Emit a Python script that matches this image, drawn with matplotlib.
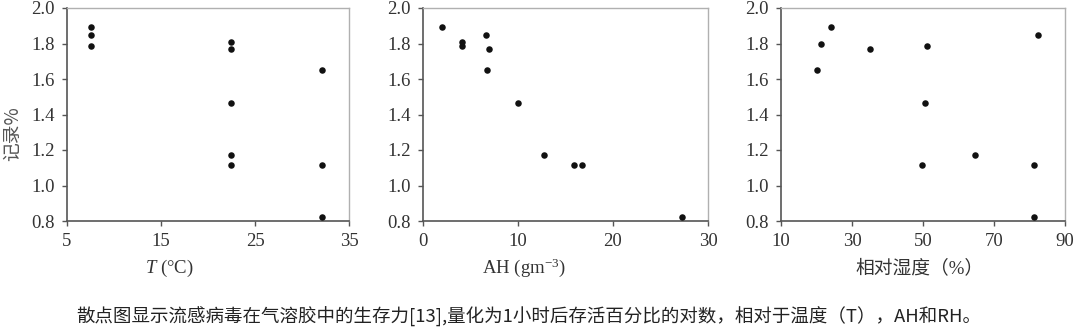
import matplotlib
matplotlib.use("Agg")
import matplotlib.pyplot as plt

# Data
T_vals = [7.5, 7.5, 7.5, 22.4, 22.4, 22.4, 22.4, 22.4, 32.1, 32.1, 32.1]
T_logs = [1.893, 1.846, 1.784, 1.806, 1.769, 1.464, 1.174, 1.116, 1.652, 1.116, 0.823]

AH_vals = [2.0, 4.1, 4.1, 6.6, 6.9, 6.75, 10.0, 12.7, 15.9, 16.7, 27.3]
AH_logs = [1.893, 1.806, 1.784, 1.846, 1.769, 1.652, 1.464, 1.174, 1.116, 1.116, 0.823]

RH_vals = [20.2, 21.3, 24.2, 35.1, 51.2, 82.3, 50.6, 49.8, 64.6, 81.2, 81.2]
RH_logs = [1.652, 1.80, 1.893, 1.769, 1.784, 1.846, 1.464, 1.116, 1.174, 1.116, 0.823]

y_ticks = [0.8, 1.0, 1.2, 1.4, 1.6, 1.8, 2.0]
T_ticks = [5, 15, 25, 35]
AH_ticks = [0, 10, 20, 30]
RH_ticks = [10, 30, 50, 70, 90]

ylabel = "记录%"
xlabels = ["$T$ (°C)", "AH (gm$^{-3}$)", "相对湿度（%）"]
caption = "散点图显示流感病毒在气溶胶中的生存力[13],量化为1小时后存活百分比的对数，相对于温度（T），AH和RH。"

plt.rcParams['mathtext.fontset'] = 'custom'
plt.rcParams['mathtext.rm'] = 'Liberation Serif'
plt.rcParams['mathtext.it'] = 'Liberation Serif:italic'

fig = plt.figure(figsize=(10.8, 3.32), dpi=100)
W, H = 1080, 332
panels = [
    (67, 349, T_vals, T_logs, T_ticks, (5, 35), 169),
    (423, 708, AH_vals, AH_logs, AH_ticks, (0, 30), 524),
    (781, 1065, RH_vals, RH_logs, RH_ticks, (10, 90), 920),
]
top, bottom = 8, 221
serif = ['Liberation Serif', 'Noto Sans CJK SC']
tick_color = '#333333'
for i, (l, r, xs, ys, xt, xl, labx) in enumerate(panels):
    ax = fig.add_axes([l / W, 1 - bottom / H, (r - l) / W, (bottom - top) / H])
    ax.scatter(xs, ys, s=22, color='#111111', zorder=3, linewidths=0)
    ax.set_xlim(*xl)
    ax.set_ylim(0.8, 2.0)
    ax.set_xticks(xt)
    ax.set_yticks(y_ticks)
    ax.set_yticklabels([f"{v:.1f}" for v in y_ticks])
    for s in ['top', 'right']:
        ax.spines[s].set_color('#b0b0b0')
        ax.spines[s].set_linewidth(1.0)
    for s in ['left', 'bottom']:
        ax.spines[s].set_color('#555555')
        ax.spines[s].set_linewidth(1.2)
    ax.tick_params(axis='both', direction='out', length=3.5, width=1, color='#555555',
                   labelcolor=tick_color, labelsize=13.5)
    ax.tick_params(axis='y', pad=5.5)
    ax.tick_params(axis='x', pad=5)
    for lab in ax.get_xticklabels() + ax.get_yticklabels():
        lab.set_family(serif)
    fig.text(labx / W, 1 - 268 / H, xlabels[i], ha='center', va='center', fontsize=13.5,
             color=tick_color, family=serif)

fig.text(13 / W, 1 - 134 / H, ylabel, rotation=90, ha='center', va='center', fontsize=13.5,
         color='#555555', family=['Noto Sans CJK SC'])

fig.text(529 / W, 1 - 317 / H, caption, ha='center', va='center', fontsize=13.3,
         color='#222222', family=['Noto Sans CJK SC', 'DejaVu Sans'])

fig.savefig("out.png", dpi=100)
